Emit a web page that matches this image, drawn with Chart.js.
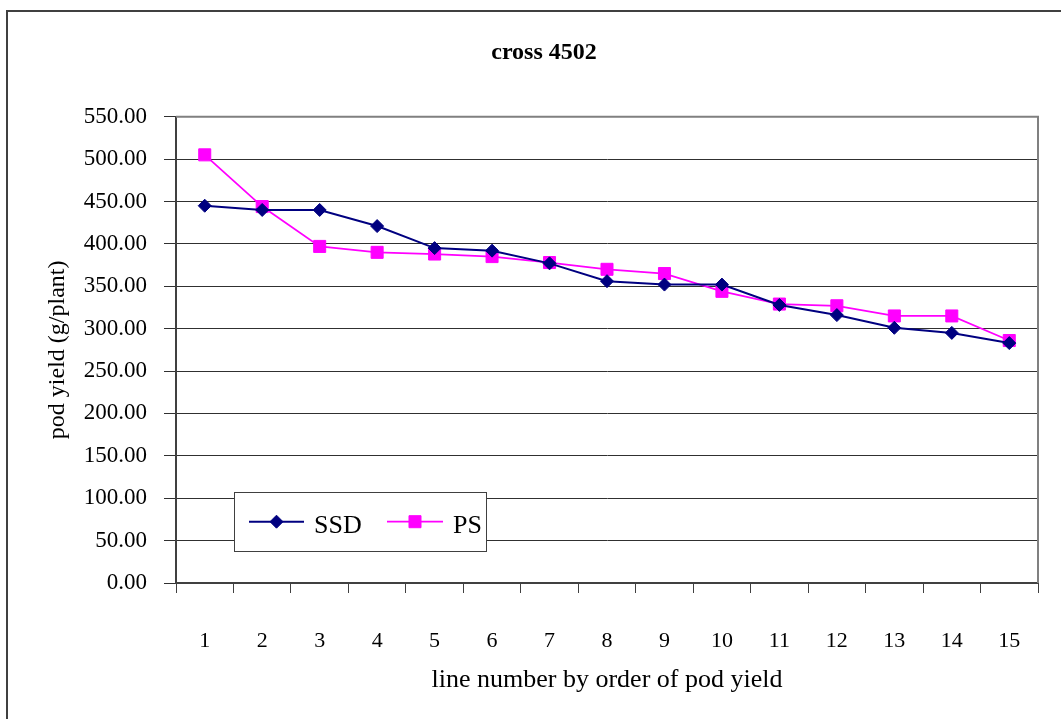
<!DOCTYPE html>
<html>
<head>
<meta charset="utf-8">
<script src="https://cdn.jsdelivr.net/npm/chart.js@4.4.0/dist/chart.umd.min.js"></script>
<style>
  html, body { margin: 0; padding: 0; background: #ffffff; }
  #wrap { position: relative; width: 1061px; height: 719px; }
</style>
</head>
<body>
<div id="wrap"><canvas id="c" width="1061" height="719"></canvas></div>
<script>
// ---- data ----
const categories = ["1","2","3","4","5","6","7","8","9","10","11","12","13","14","15"];
const ssdValues = [445, 440, 440, 421, 395, 392, 377, 356, 352, 352, 328, 316, 301, 295, 283];
const psValues  = [505, 444, 397, 390, 388, 385, 378, 370, 365, 344, 329, 327, 315, 315, 286];
const seriesNames = ["SSD", "PS"];
const chartTitle = "cross 4502";
const xTitle = "line number by order of pod yield";
const yTitle = "pod yield (g/plant)";
const yMin = 0, yMax = 550, yStep = 50;

const FONT = "'Liberation Serif', 'Times New Roman', serif";
const SSD_COLOR = "#000080";
const PS_COLOR = "#FF00FF";

// frame, title, plot border and legend plugin
const decor = {
  id: 'decor',
  beforeDraw(chart) {
    const ctx = chart.ctx;
    ctx.save();
    ctx.fillStyle = '#ffffff';
    ctx.fillRect(0, 0, chart.width, chart.height);
    ctx.strokeStyle = '#404040';
    ctx.lineWidth = 2;
    ctx.beginPath();
    ctx.moveTo(7, chart.height);
    ctx.lineTo(7, 11);
    ctx.lineTo(chart.width, 11);
    ctx.stroke();
    // chart title, centred over the outer frame
    ctx.fillStyle = '#000000';
    ctx.font = "bold 24px " + FONT;
    ctx.textAlign = 'center';
    ctx.textBaseline = 'middle';
    ctx.fillText(chartTitle, 544, 53);
    ctx.restore();
  },
  beforeDatasetsDraw(chart) {
    const {ctx, chartArea: a} = chart;
    ctx.save();
    ctx.strokeStyle = '#808080';
    ctx.lineWidth = 2;
    ctx.beginPath();
    ctx.moveTo(a.left, a.top);
    ctx.lineTo(a.right, a.top);
    ctx.lineTo(a.right, a.bottom);
    ctx.stroke();
    ctx.restore();
  },
  afterDatasetsDraw(chart) {
    const {ctx, chartArea: a} = chart;
    const bx = a.left + 58, by = a.top + 375, bw = 252, bh = 59;
    ctx.save();
    ctx.fillStyle = '#ffffff';
    ctx.fillRect(bx, by, bw, bh);
    ctx.strokeStyle = '#404040';
    ctx.lineWidth = 1;
    ctx.strokeRect(Math.round(bx) + 0.5, Math.round(by) + 0.5, bw, bh);
    const ly = by + 30;
    const items = [
      {off: 15, len: 55, text: seriesNames[0], ds: chart.data.datasets[0]},
      {off: 153, len: 56, text: seriesNames[1], ds: chart.data.datasets[1]}
    ];
    items.forEach(it => {
      const ds = it.ds;
      const cx = bx + it.off + it.len / 2;
      ctx.strokeStyle = ds.borderColor;
      ctx.lineWidth = ds.borderWidth;
      ctx.beginPath();
      ctx.moveTo(bx + it.off, ly);
      ctx.lineTo(bx + it.off + it.len, ly);
      ctx.stroke();
      ctx.fillStyle = ds.pointBackgroundColor;
      ctx.strokeStyle = ds.pointBorderColor;
      ctx.lineWidth = 1;
      ctx.beginPath();
      if (ds.pointStyle === 'rectRot') {
        const r = ds.pointRadius;
        ctx.moveTo(cx - r, ly); ctx.lineTo(cx, ly - r); ctx.lineTo(cx + r, ly); ctx.lineTo(cx, ly + r);
      } else {
        const s = ds.pointRadius * Math.SQRT1_2;
        ctx.rect(cx - s, ly - s, 2 * s, 2 * s);
      }
      ctx.closePath();
      ctx.fill();
      ctx.stroke();
      ctx.fillStyle = '#000000';
      ctx.font = "26px " + FONT;
      ctx.textBaseline = 'middle';
      ctx.textAlign = 'left';
      ctx.fillText(it.text, bx + it.off + it.len + 10, ly + 4);
    });
    ctx.restore();
  }
};

new Chart(document.getElementById('c'), {
  type: 'line',
  data: {
    labels: categories,
    datasets: [
      {
        label: seriesNames[0], data: ssdValues,
        borderColor: SSD_COLOR, backgroundColor: SSD_COLOR,
        pointBackgroundColor: SSD_COLOR, pointBorderColor: SSD_COLOR,
        borderWidth: 2, pointStyle: 'rectRot', pointRadius: 6.5, pointBorderWidth: 1,
        tension: 0, fill: false
      },
      {
        label: seriesNames[1], data: psValues,
        borderColor: PS_COLOR, backgroundColor: PS_COLOR,
        pointBackgroundColor: PS_COLOR, pointBorderColor: PS_COLOR,
        borderWidth: 1.75, pointStyle: 'rect', pointRadius: 8.5, pointBorderWidth: 1,
        tension: 0, fill: false
      }
    ]
  },
  options: {
    responsive: false,
    animation: false,
    devicePixelRatio: 1,
    layout: { padding: { left: 0, right: 23, top: 116.7, bottom: 0 } },
    plugins: {
      legend: { display: false },
      tooltip: { enabled: false },
      title: { display: false }
    },
    scales: {
      x: {
        type: 'category',
        offset: true,
        grid: {
          offset: true, drawOnChartArea: false, drawTicks: true,
          tickLength: 10, color: '#404040', lineWidth: 1
        },
        border: { display: true, color: '#404040', width: 2 },
        ticks: { color: '#000000', font: { family: FONT, size: 22 }, padding: 35.5, maxRotation: 0, autoSkip: false },
        title: {
          display: true, text: xTitle, color: '#000000',
          font: { family: FONT, size: 26 }, padding: { top: 0, bottom: 23.4 }
        },
        afterFit(scale) { scale.height = 136; }
      },
      y: {
        min: yMin, max: yMax,
        grid: { color: '#303030', lineWidth: 1, tickLength: 12, drawTicks: true },
        border: { display: true, color: '#404040', width: 2 },
        ticks: {
          stepSize: yStep, color: '#000000', font: { family: FONT, size: 23 }, padding: 17,
          callback: v => Number(v).toFixed(2)
        },
        title: {
          display: true, text: yTitle, color: '#000000',
          font: { family: FONT, size: 24 }, padding: { top: 43.6, bottom: 0 }
        },
        afterFit(scale) { scale.width = 176; }
      }
    }
  },
  plugins: [decor]
});
</script>
</body>
</html>
